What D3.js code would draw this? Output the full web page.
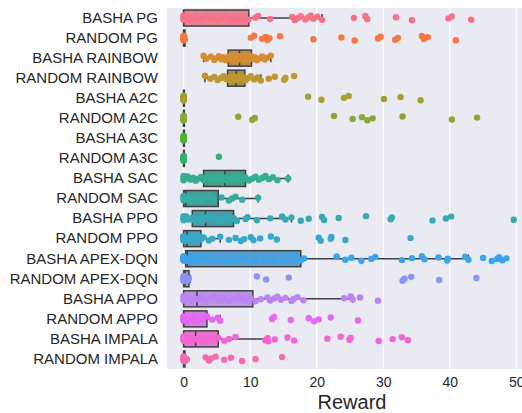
<!DOCTYPE html>
<html>
<head>
<meta charset="utf-8">
<script src="https://cdn.jsdelivr.net/npm/d3@7"></script>
<style>
  body { margin: 0; background: #fff; }
  text { font-family: "Liberation Sans", Arial, sans-serif; fill: #262626; }
</style>
</head>
<body>
<svg id="chart"></svg>
<script>
// Kategori (sumbu Y)
const categories = [
  "BASHA PG", "RANDOM PG", "BASHA RAINBOW", "RANDOM RAINBOW",
  "BASHA A2C", "RANDOM A2C", "BASHA A3C", "RANDOM A3C",
  "BASHA SAC", "RANDOM SAC", "BASHA PPO", "RANDOM PPO",
  "BASHA APEX-DQN", "RANDOM APEX-DQN", "BASHA APPO", "RANDOM APPO",
  "BASHA IMPALA", "RANDOM IMPALA"
];

// Statistik box
const q1        = [0, 0, 6.7, 6.6, 0, 0, 0, 0, 3.0, 0, 1.3, 0, 0.3, 0, 0, 0, 0, 0];
const median    = [0, 0, 8.4, 7.9, 0, 0, 0, 0, 6.2, 0.3, 3.3, 0.5, 0.55, 0.2, 2.0, 0, 1.8, 0];
const q3        = [9.8, 0.2, 10.2, 9.2, 0.1, 0.1, 0.1, 0.1, 9.3, 5.2, 7.5, 2.6, 17.6, 0.8, 10.4, 3.5, 5.2, 0.2];
const whiskerLo = [0, 0, 3.0, 3.2, 0, 0, 0, 0, 0, 0, 0, 0, 0, 0, 0, 0, 0, 0];
const whiskerHi = [20.8, 0.2, 13.1, 11.6, 0.1, 0.1, 0.1, 0.1, 15.7, 11.2, 16.2, 5.5, 42.8, 1.0, 25.4, 5.5, 12.7, 0.2];

// Titik reward per kategori
const bashaPG = [0, 0, 0, 0, 0, 0, 0, 0.3, 0.8, 1.2, 1.8, 2.3, 2.9, 3.4, 4.0, 4.6, 5.1, 5.7, 6.2, 6.9, 7.4, 8.0, 8.6, 9.1, 9.7,
  10.8, 11.2, 13.0, 16.3, 16.7, 17.1, 17.6, 18.3, 18.7, 19.1, 19.5, 20.1, 20.8, 25.6, 27.3, 27.6, 31.9, 34.3, 39.8, 40.3, 43.2];
const randomPG = [0, 0, 0, 0, 0, 0, 0, 0, 0, 0, 0.1, 0.2,
  10.1, 10.6, 11.8, 12.3, 12.6, 12.9, 14.5, 19.5, 23.7, 25.7, 29.2, 29.6, 31.8, 32.2, 35.8, 36.1, 36.7, 40.9];
const bashaRainbow = [3.0, 3.4, 4.1, 4.6, 5.0, 5.3, 5.7, 6.0, 6.3, 6.6, 6.8, 7.0, 7.2, 7.4, 7.6, 7.8, 8.0, 8.2, 8.4, 8.6,
  8.8, 9.0, 9.2, 9.4, 9.6, 9.9, 10.1, 10.4, 10.7, 11.0, 11.4, 11.8, 12.2, 12.6, 13.1];
const randomRainbow = [3.2, 4.0, 4.6, 5.1, 5.6, 6.0, 6.4, 6.7, 7.0, 7.3, 7.6, 7.9, 8.1, 8.4, 8.7, 9.0, 9.3, 9.7, 10.1,
  10.6, 11.1, 11.6, 12.8, 13.7, 15.1, 15.3, 16.6];
const bashaA2C = [0, 0, 0, 0, 0, 0, 0, 0, 0, 0, 18.7, 20.7, 24.1, 24.8, 30.1, 32.6, 35.6];
const randomA2C = [0, 0, 0, 0, 0, 0, 0, 0, 0, 0, 8.2, 10.3, 10.7, 22.6, 25.4, 26.8, 27.6, 28.4, 32.9, 40.3, 44.1];
const bashaA3C = [0, 0, 0, 0, 0, 0, 0, 0, 0, 0];
const randomA3C = [0, 0, 0, 0, 0, 0, 0, 0, 0, 0, 5.3];
const bashaSAC = [0, 0, 0, 0, 0.3, 0.6, 1.0, 1.4, 1.8, 2.2, 2.6, 3.0, 3.3, 3.7, 4.0, 4.4, 4.8, 5.1, 5.5, 5.9, 6.2, 6.6,
  7.0, 7.4, 7.8, 8.2, 8.6, 9.0, 9.3, 9.8, 10.3, 10.8, 11.3, 11.8, 12.3, 12.8, 13.4, 14.1, 15.7];
const randomSAC = [0, 0, 0, 0, 0, 0, 0.3, 0.6, 1.0, 1.5, 2.0, 2.6, 3.1, 3.8, 4.5, 5.7, 6.8, 7.3, 7.8, 8.8, 11.2];
const bashaPPO = [0, 0, 0, 0, 0, 0.4, 0.8, 1.3, 1.7, 2.1, 2.6, 3.0, 3.3, 3.7, 4.2, 4.8, 5.4, 6.0, 6.6, 7.1, 7.5, 8.0,
  9.3, 9.6, 11.0, 13.0, 14.8, 15.3, 16.2, 17.6, 18.8, 20.8, 21.1, 23.3, 27.4, 31.1, 31.3, 37.4, 39.4, 40.2, 49.6];
const randomPPO = [0, 0, 0, 0, 0, 0, 0, 0, 0.3, 0.6, 1.0, 1.4, 1.9, 2.3, 2.6, 3.0, 3.8, 4.3, 5.5, 6.8, 7.8, 8.6, 9.1,
  10.1, 10.5, 11.5, 13.1, 14.0, 20.3, 20.6, 22.1, 22.2, 24.3, 34.1];
const bashaApex = [0, 0, 0, 0, 0, 0, 0, 0, 0.3, 0.6, 1.0, 1.5, 2.2, 3.0, 4.0, 5.2, 6.5, 7.8, 9.0, 10.8, 12.1, 13.5, 15.0,
  16.5, 17.6, 18.1, 23.0, 24.3, 25.2, 26.7, 28.2, 28.8, 32.8, 34.3, 35.8, 36.2, 38.3, 39.6, 39.7, 42.3, 42.8,
  45.0, 46.3, 47.1, 47.4, 47.9, 48.5];
const randomApex = [0, 0, 0, 0, 0, 0, 0, 0, 0, 0, 0.3, 0.6, 0.8, 11.0, 12.4, 15.8, 32.9, 33.2, 34.2, 38.4, 44.0];
const bashaAPPO = [0, 0, 0, 0, 0, 0, 0.4, 0.9, 1.4, 2.0, 2.6, 3.2, 3.9, 4.6, 5.3, 6.0, 6.8, 7.6, 8.4, 9.2, 10.0, 10.8,
  11.6, 12.6, 13.0, 13.6, 14.1, 14.6, 15.3, 16.2, 16.5, 17.1, 18.0, 24.1, 25.1, 25.4, 26.5, 29.2];
const randomAPPO = [0, 0, 0, 0, 0, 0, 0, 0, 0.4, 0.9, 1.5, 2.1, 2.8, 3.5, 4.3, 5.1, 5.5, 13.3, 13.6, 16.1, 18.8, 19.6,
  20.3, 22.1, 26.2];
const bashaImpala = [0, 0, 0, 0, 0, 0, 0.4, 0.8, 1.2, 1.8, 2.4, 3.0, 3.6, 4.2, 4.8, 5.2, 6.1, 6.8, 7.8, 12.3, 12.6, 12.7,
  13.7, 15.6, 16.6, 21.6, 23.6, 24.9, 25.1, 29.3, 31.4, 32.8, 33.7];
const randomImpala = [0, 0, 0, 0, 0, 0, 0, 0, 0.2, 0.5, 3.3, 3.8, 4.1, 4.8, 6.1, 7.1, 8.8, 10.8, 14.8];

const rewards = [bashaPG, randomPG, bashaRainbow, randomRainbow, bashaA2C, randomA2C, bashaA3C, randomA3C,
  bashaSAC, randomSAC, bashaPPO, randomPPO, bashaApex, randomApex, bashaAPPO, randomAPPO, bashaImpala, randomImpala];

const xTicks = [0, 10, 20, 30, 40, 50];

// Ukuran SVG dan area plot
const svgWidth = 522;
const svgHeight = 413;
const plot = { left: 167, top: 8, right: 535, bottom: 369 };

// Palet husl ala seaborn (HSLuv -> RGB)
const M = [
  [3.240969941904521, -1.537383177570093, -0.498610760293],
  [-0.96924363628087, 1.87596750150772, 0.041555057407175],
  [0.055630079696993, -0.20397695888897, 1.056971514242878]
];
const kappa = 903.2962962, epsilon = 0.0088564516;
const refU = 0.19783000664283, refV = 0.46831999493879;

function maxChroma(L, H) {
  const hrad = H / 360 * Math.PI * 2;
  const sub1 = Math.pow(L + 16, 3) / 1560896;
  const sub2 = sub1 > epsilon ? sub1 : L / kappa;
  let min = Infinity;
  M.forEach(([m1, m2, m3]) => {
    [0, 1].forEach(t => {
      const top1 = (284517 * m1 - 94839 * m3) * sub2;
      const top2 = (838422 * m3 + 769860 * m2 + 731718 * m1) * L * sub2 - 769860 * t * L;
      const bottom = (632260 * m3 - 126452 * m2) * sub2 + 126452 * t;
      const len = (top2 / bottom) / (Math.sin(hrad) - (top1 / bottom) * Math.cos(hrad));
      if (len >= 0) min = Math.min(min, len);
    });
  });
  return min;
}

function husl(h, s, l) {
  const C = maxChroma(l, h) / 100 * s;
  const hrad = h / 180 * Math.PI;
  const U = C * Math.cos(hrad), V = C * Math.sin(hrad);
  const varU = U / (13 * l) + refU;
  const varV = V / (13 * l) + refV;
  const Y = l <= 8 ? l / kappa : Math.pow((l + 16) / 116, 3);
  const X = -(9 * Y * varU) / ((varU - 4) * varV - varU * varV);
  const Z = (9 * Y - 15 * varV * Y - varV * X) / (3 * varV);
  const rgb = M.map(r => r[0] * X + r[1] * Y + r[2] * Z)
    .map(c => c <= 0.0031308 ? 12.92 * c : 1.055 * Math.pow(c, 1 / 2.4) - 0.055)
    .map(c => Math.round(Math.max(0, Math.min(1, c)) * 255));
  return d3.rgb(rgb[0], rgb[1], rgb[2]);
}

const n = categories.length;
const pointColors = categories.map((c, i) => husl(((i / n + 0.01) % 1) * 359, 89.1, 64.35));
const boxColors = pointColors.map(c => { const h = d3.hsl(c); h.s *= 0.75; return h.formatHex(); });
const edgeGray = (() => {
  const lum = d3.min(boxColors, c => d3.hsl(c).l) * 0.6 * 255;
  return d3.rgb(lum, lum, lum).formatHex();
})();

// SVG
const svg = d3.select("#chart")
  .attr("width", svgWidth)
  .attr("height", svgHeight);

// Skala
const x = d3.scaleLinear()
  .domain([-2.5, 52.8])
  .range([plot.left, plot.right]);

const y = d3.scaleBand()
  .domain(categories)
  .range([plot.top, plot.bottom]);

// Latar belakang abu-abu
svg.append("rect")
  .attr("x", plot.left).attr("y", plot.top)
  .attr("width", plot.right - plot.left)
  .attr("height", plot.bottom - plot.top)
  .attr("fill", "#eaeaf2");

// Grid putih
svg.append("g")
  .selectAll("line")
  .data(xTicks)
  .enter().append("line")
  .attr("x1", d => x(d)).attr("x2", d => x(d))
  .attr("y1", plot.top).attr("y2", plot.bottom)
  .attr("stroke", "#fff")
  .attr("stroke-width", 1.2);

// Sumbu X
const xAxis = svg.append("g")
  .attr("transform", `translate(0,${plot.bottom})`)
  .call(d3.axisBottom(x).tickValues(xTicks).tickSize(0).tickPadding(8));
xAxis.select(".domain").remove();
xAxis.selectAll("text")
  .style("font-size", "14px")
  .style("font-family", "Liberation Sans, Arial, sans-serif")
  .attr("fill", "#262626");

svg.append("text")
  .attr("x", 352)
  .attr("y", 409)
  .attr("text-anchor", "middle")
  .style("font-size", "20px")
  .text("Reward");

// Sumbu Y
const yAxis = svg.append("g")
  .attr("transform", `translate(${plot.left},0)`)
  .call(d3.axisLeft(y).tickSize(0).tickPadding(9));
yAxis.select(".domain").remove();
yAxis.selectAll("text")
  .style("font-size", "15px")
  .style("font-family", "Liberation Sans, Arial, sans-serif")
  .attr("fill", "#262626");

// Boxplot
const bw = y.bandwidth() * 0.8;
const boxes = svg.append("g")
  .selectAll("g")
  .data(categories)
  .enter().append("g")
  .attr("transform", d => `translate(0,${y(d) + y.bandwidth() / 2})`);

boxes.append("line")
  .attr("x1", (d, i) => x(whiskerLo[i])).attr("x2", (d, i) => x(q1[i]))
  .attr("stroke", edgeGray).attr("stroke-width", 1.5);
boxes.append("line")
  .attr("x1", (d, i) => x(q3[i])).attr("x2", (d, i) => x(whiskerHi[i]))
  .attr("stroke", edgeGray).attr("stroke-width", 1.5);
boxes.append("line")
  .attr("x1", (d, i) => x(whiskerLo[i])).attr("x2", (d, i) => x(whiskerLo[i]))
  .attr("y1", -bw / 4).attr("y2", bw / 4)
  .attr("stroke", edgeGray).attr("stroke-width", 1.5);
boxes.append("line")
  .attr("x1", (d, i) => x(whiskerHi[i])).attr("x2", (d, i) => x(whiskerHi[i]))
  .attr("y1", -bw / 4).attr("y2", bw / 4)
  .attr("stroke", edgeGray).attr("stroke-width", 1.5);
boxes.append("rect")
  .attr("x", (d, i) => x(q1[i]))
  .attr("y", -bw / 2)
  .attr("width", (d, i) => x(q3[i]) - x(q1[i]))
  .attr("height", bw)
  .attr("fill", (d, i) => boxColors[i])
  .attr("stroke", edgeGray)
  .attr("stroke-width", 1.5);
boxes.append("line")
  .attr("x1", (d, i) => x(median[i])).attr("x2", (d, i) => x(median[i]))
  .attr("y1", -bw / 2).attr("y2", bw / 2)
  .attr("stroke", edgeGray).attr("stroke-width", 1.5);

// Titik strip dengan jitter tetap (bukan acak)
boxes.each(function (d, i) {
  d3.select(this).selectAll("circle")
    .data(rewards[i])
    .enter().append("circle")
    .attr("cx", v => x(v))
    .attr("cy", (v, j) => (((j * 0.618034) % 1) - 0.5) * 5)
    .attr("r", 3.2)
    .attr("fill", pointColors[i]);
});
</script>
</body>
</html>
